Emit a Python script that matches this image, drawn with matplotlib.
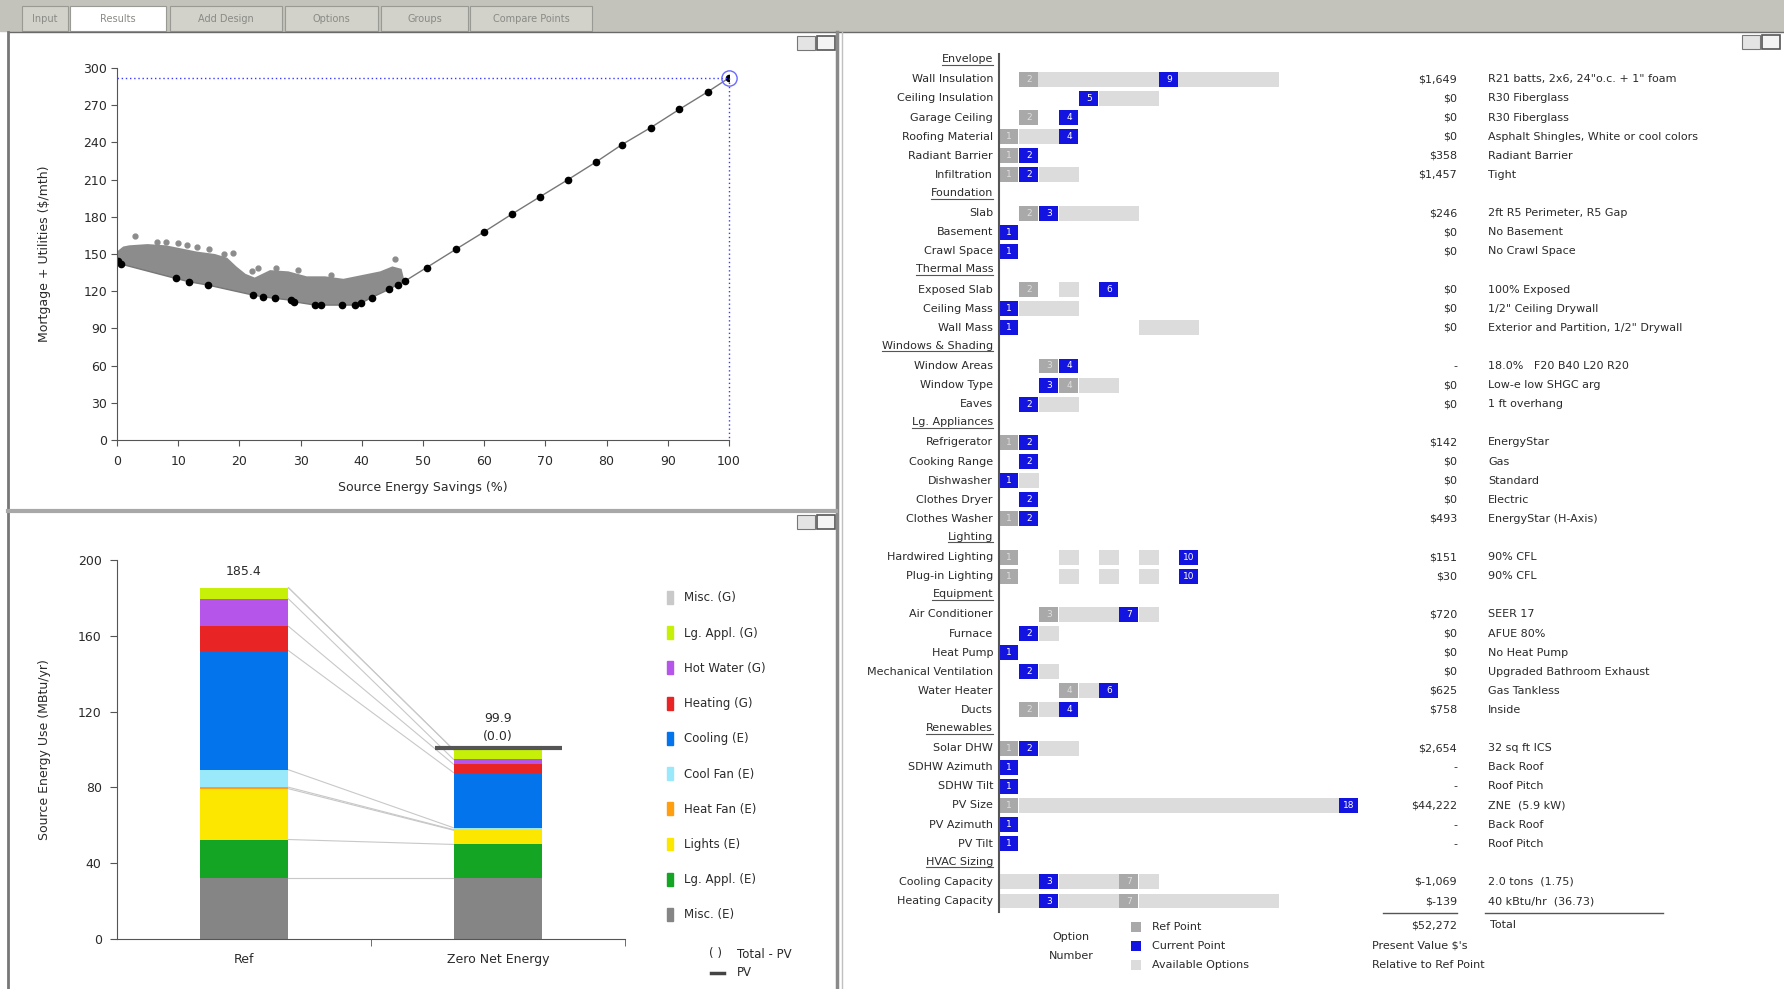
import numpy as np
import matplotlib.pyplot as plt
from matplotlib.patches import Rectangle, Patch

W, H = 1784, 989

# ---------------- top chart: mortgage + utilities vs savings
env_x = [0.2, 0.7, 9.6, 11.8, 14.9, 22.3, 23.9, 25.8, 28.4, 28.9, 32.4, 33.3, 36.7, 38.9,
         39.8, 41.6, 44.4, 45.9, 47.0, 50.6, 55.4, 59.9, 64.5, 69.1, 73.7, 78.3, 82.5,
         87.2, 91.9, 96.5, 100.0]
env_y = [144.5, 141.8, 130.3, 127.6, 124.9, 116.8, 115.5, 114.2, 112.8, 111.5, 108.8, 108.8,
         108.8, 108.8, 110.1, 114.9, 121.4, 125.4, 128.0, 139.1, 153.9, 167.6, 182.1, 196.1,
         210.0, 224.3, 238.2, 251.9, 266.7, 280.7, 292.0]
# upper edge of the cloud of simulated designs
cloud_x = [0, 1, 2, 5, 8, 10, 13, 16, 18, 19.5, 21, 22.5, 25, 28, 31, 34, 37, 40, 43, 45, 46.5, 47]
cloud_top = [152, 156, 157, 158, 157, 155, 152, 150, 147, 140, 134, 131, 137, 136, 132, 132,
             130, 133, 136, 140, 138, 128]
stray_x = [3, 6.5, 8, 10, 11.5, 13, 15, 17.5, 19, 22, 23, 26, 29.5, 35, 45.5]
stray_y = [164.5, 160, 160, 159, 157, 156, 154, 150, 151, 136, 139, 139, 137, 133, 146]
zne_x, zne_y = 100, 292

# ---------------- bottom chart: source energy use
end_uses = ['Misc. (E)', 'Lg. Appl. (E)', 'Lights (E)', 'Heat Fan (E)', 'Cool Fan (E)',
            'Cooling (E)', 'Heating (G)', 'Hot Water (G)', 'Lg. Appl. (G)', 'Misc. (G)']
use_colors = ['#858585', '#13a523', '#fbe700', '#ff9f10', '#9ae9fb',
              '#0474ec', '#e82424', '#b555ea', '#c7f009', '#c9c9c9']
ref_use = [32.2, 20.3, 26.8, 0.8, 9.2, 62.9, 12.8, 14.5, 5.9, 0.0]
zne_use = [32.2, 17.7, 7.5, 0.3, 1.0, 29.1, 4.4, 2.6, 5.1, 0.0]
bar_names = ['Ref', 'Zero Net Energy']
net_label = '(0.0)'

# ---------------- right panel: options
sections = ['Envelope', 'Foundation', 'Thermal Mass', 'Windows & Shading', 'Lg. Appliances',
            'Lighting', 'Equipment', 'Renewables', 'HVAC Sizing']
section_sizes = [6, 3, 3, 3, 5, 2, 6, 6, 2]
items = ['Wall Insulation', 'Ceiling Insulation', 'Garage Ceiling', 'Roofing Material',
         'Radiant Barrier', 'Infiltration',
         'Slab', 'Basement', 'Crawl Space',
         'Exposed Slab', 'Ceiling Mass', 'Wall Mass',
         'Window Areas', 'Window Type', 'Eaves',
         'Refrigerator', 'Cooking Range', 'Dishwasher', 'Clothes Dryer', 'Clothes Washer',
         'Hardwired Lighting', 'Plug-in Lighting',
         'Air Conditioner', 'Furnace', 'Heat Pump', 'Mechanical Ventilation', 'Water Heater', 'Ducts',
         'Solar DHW', 'SDHW Azimuth', 'SDHW Tilt', 'PV Size', 'PV Azimuth', 'PV Tilt',
         'Cooling Capacity', 'Heating Capacity']
ref_opt = [2, None, 2, 1, 1, 1,
           2, None, None,
           2, None, None,
           3, 4, None,
           1, None, None, None, 1,
           1, 1,
           3, None, None, None, 4, 2,
           1, None, None, 1, None, None,
           7, 7]
cur_opt = [9, 5, 4, 4, 2, 2,
           3, 1, 1,
           6, 1, 1,
           4, 3, 2,
           2, 2, 1, 2, 2,
           10, 10,
           7, 2, 1, 2, 6, 4,
           2, 1, 1, 18, 1, 1,
           3, 3]
avail_spans = [[(2, 14)], [(6, 8)], [], [(2, 3)], [], [(3, 4)],
               [(4, 7)], [], [],
               [(4, 4)], [(2, 4)], [(8, 10)],
               [], [(5, 6)], [(3, 4)],
               [], [], [(2, 2)], [], [],
               [(4, 4), (6, 6), (8, 8)], [(4, 4), (6, 6), (8, 8)],
               [(4, 6), (8, 8)], [(3, 3)], [], [(3, 3)], [(5, 5)], [(3, 3)],
               [(3, 4)], [], [], [(2, 17)], [], [],
               [(1, 2), (4, 6), (8, 8)], [(1, 2), (4, 6), (8, 14)]]
costs = ['$1,649', '$0', '$0', '$0', '$358', '$1,457',
         '$246', '$0', '$0',
         '$0', '$0', '$0',
         '-', '$0', '$0',
         '$142', '$0', '$0', '$0', '$493',
         '$151', '$30',
         '$720', '$0', '$0', '$0', '$625', '$758',
         '$2,654', '-', '-', '$44,222', '-', '-',
         '$-1,069', '$-139']
descs = ['R21 batts, 2x6, 24"o.c. + 1" foam', 'R30 Fiberglass', 'R30 Fiberglass',
         'Asphalt Shingles, White or cool colors', 'Radiant Barrier', 'Tight',
         '2ft R5 Perimeter, R5 Gap', 'No Basement', 'No Crawl Space',
         '100% Exposed', '1/2" Ceiling Drywall', 'Exterior and Partition, 1/2" Drywall',
         '18.0%   F20 B40 L20 R20', 'Low-e low SHGC arg', '1 ft overhang',
         'EnergyStar', 'Gas', 'Standard', 'Electric', 'EnergyStar (H-Axis)',
         '90% CFL', '90% CFL',
         'SEER 17', 'AFUE 80%', 'No Heat Pump', 'Upgraded Bathroom Exhaust', 'Gas Tankless', 'Inside',
         '32 sq ft ICS', 'Back Roof', 'Roof Pitch', 'ZNE  (5.9 kW)', 'Back Roof', 'Roof Pitch',
         '2.0 tons  (1.75)', '40 kBtu/hr  (36.73)']
total_cost = '$52,272'

tabs = ['Input', 'Results', 'Add Design', 'Options', 'Groups', 'Compare Points']

TXT = '#2a2a2a'


def px_box(l, t, r, b):
    return [l / W, 1 - b / H, (r - l) / W, (b - t) / H]


fig = plt.figure(figsize=(W / 100, H / 100), dpi=100)
fig.patch.set_facecolor('white')

# window chrome drawn in pixel units
bg = fig.add_axes([0, 0, 1, 1], zorder=-1)
bg.set_xlim(0, W)
bg.set_ylim(H, 0)
bg.axis('off')
bg.add_patch(Rectangle((0, 0), W, 31, color='#c3c3bb'))
tab_x = [(22, 68), (70, 166), (170, 282), (285, 378), (381, 468), (470, 592)]
for i, ((a, b), name) in enumerate(zip(tab_x, tabs)):
    bg.add_patch(Rectangle((a, 6), b - a, 25, fc='white' if i == 1 else '#d2d2ca',
                           ec='#9a9a94', lw=0.8))
    bg.text((a + b) / 2, 19, name, fontsize=7, color='#8a8a86', ha='center', va='center')
bg.plot([8, W], [32, 32], color='#6a6a6a', lw=1)
bg.plot([8, 8], [32, H], color='#777777', lw=2)
bg.plot([837, 837], [32, H], color='#8a8a8a', lw=2.5)
bg.plot([842, 842], [32, H], color='#c0c0c0', lw=1)
bg.plot([8, 836], [511, 511], color='#a8a8a8', lw=3)
for (a, t) in [(797, 36), (797, 515), (1742, 35)]:
    bg.add_patch(Rectangle((a, t), 18, 14, fc='#e4e4e4', ec='#777', lw=0.8))
    bg.add_patch(Rectangle((a + 20, t), 18, 14, fc='#f4f4f4', ec='#555', lw=1.2))

# ---------------- top chart
ax1 = fig.add_axes(px_box(117, 68, 729, 440))
ax1.patch.set_alpha(0)
low_x = [x for x in env_x if x <= 47]
low_y = env_y[:len(low_x)]
ax1.fill(cloud_x + low_x[::-1], cloud_top + low_y[::-1], color='#8c8c8c', lw=0)
ax1.plot(stray_x, stray_y, 'o', color='#8c8c8c', ms=3.5)
ax1.plot(env_x, env_y, color='#777777', lw=1, marker='o', ms=4.5, mfc='black', mec='black')
ax1.plot([0, zne_x], [zne_y, zne_y], color='#3a3aff', lw=1, ls=(0, (1, 2)), clip_on=False)
ax1.plot([zne_x, zne_x], [zne_y, 0], color='#3a3aff', lw=1, ls=(0, (1, 2)), clip_on=False)
ax1.plot([zne_x], [zne_y], 'o', ms=11, mfc='none', mec='#6a6aff', mew=1, clip_on=False)
ax1.set_xlim(0, 100)
ax1.set_ylim(0, 300)
ax1.set_xticks(np.arange(0, 101, 10))
ax1.set_yticks(np.arange(0, 301, 30))
for s in ['top', 'right']:
    ax1.spines[s].set_visible(False)
for s in ['left', 'bottom']:
    ax1.spines[s].set_color('#555555')
ax1.tick_params(labelsize=9, colors='#555555', labelcolor=TXT, length=4, pad=3)
ax1.tick_params(axis='x', pad=7)
ax1.set_ylabel('Mortgage + Utilities ($/mth)', fontsize=9, color=TXT)
ax1.set_xlabel('Source Energy Savings (%)', fontsize=9, color=TXT)
ax1.yaxis.set_label_coords(-0.108, 0.5)
ax1.xaxis.set_label_coords(0.5, -0.11)

# ---------------- bottom chart
ax2 = fig.add_axes(px_box(117, 560, 625, 939))
ax2.patch.set_alpha(0)
bw = 0.35
ref_cum = np.concatenate([[0], np.cumsum(ref_use)])
zne_cum = np.concatenate([[0], np.cumsum(zne_use)])
for i in range(len(end_uses)):
    ax2.bar(0, ref_use[i], bw, bottom=ref_cum[i], color=use_colors[i], lw=0)
    ax2.bar(1, zne_use[i], bw, bottom=zne_cum[i], color=use_colors[i], lw=0)
for a, b in zip(ref_cum[1:], zne_cum[1:]):
    ax2.plot([bw / 2, 1 - bw / 2], [a, b], color='#c8c8c8', lw=0.8, zorder=0)
ax2.plot([0.75, 1.25], [zne_cum[-1] + 0.7] * 2, color='#555555', lw=3, solid_capstyle='butt')
ax2.text(0, ref_cum[-1] + 5, f'{ref_cum[-1]:.1f}', ha='center', va='bottom', fontsize=9, color=TXT)
ax2.text(1, zne_cum[-1] + 13, f'{zne_cum[-1]:.1f}', ha='center', va='bottom', fontsize=9, color=TXT)
ax2.text(1, zne_cum[-1] + 3.5, net_label, ha='center', va='bottom', fontsize=9, color=TXT)
ax2.set_xlim(-0.5, 1.5)
ax2.set_ylim(0, 200)
ax2.set_yticks(np.arange(0, 201, 40))
ax2.set_xticks([0, 1])
ax2.set_xticklabels(bar_names)
ax2.set_xticks([0.5, 1.5], minor=True)
ax2.tick_params(axis='x', which='major', length=0, pad=10)
ax2.tick_params(axis='x', which='minor', length=5, color='#555555')
ax2.tick_params(axis='y', length=5, pad=6, colors='#555555')
ax2.tick_params(labelsize=9, labelcolor=TXT)
for s in ['top', 'right']:
    ax2.spines[s].set_visible(False)
for s in ['left', 'bottom']:
    ax2.spines[s].set_color('#555555')
ax2.set_ylabel('Source Energy Use (MBtu/yr)', fontsize=9, color=TXT)
ax2.yaxis.set_label_coords(-0.13, 0.5)

handles = [Patch(color=c) for c in use_colors[::-1]]
fig.legend(handles, end_uses[::-1], loc='upper left', bbox_to_anchor=(667 / W, 1 - 591 / H),
           frameon=False, fontsize=8.5, handlelength=0.55, handleheight=1.3,
           handletextpad=0.9, labelspacing=1.85, borderpad=0, borderaxespad=0,
           labelcolor=TXT)
bg.text(709, 954, '( )', fontsize=8.5, color=TXT, va='center')
bg.text(737, 954, 'Total - PV', fontsize=8.5, color=TXT, va='center')
bg.plot([711, 724], [973, 973], color='#444444', lw=2.5)
bg.text(737, 973, 'PV', fontsize=8.5, color=TXT, va='center')

# ---------------- right panel: option numbers
ox_px, opt_px = 999, 20.0
row0_px, row_px = 60.2, 19.11
ro = fig.add_axes(px_box(840, 40, W, H))
ro.patch.set_alpha(0)
ro.set_xlim((840 - ox_px) / opt_px, (W - ox_px) / opt_px)
ro.set_ylim((H - row0_px) / row_px, (40 - row0_px) / row_px)
ro.axis('off')

row_of_item = []
header_rows = []
r = 0
for name, n in zip(sections, section_sizes):
    header_rows.append(r)
    row_of_item += list(range(r + 1, r + 1 + n))
    r += n + 1

bh = 0.78
header_texts = []
for name, r in zip(sections, header_rows):
    header_texts.append(ro.text(-0.3, r - 0.05, name, ha='right', va='center', fontsize=8, color=TXT))

for k, r in enumerate(row_of_item):
    ro.text(-0.3, r, items[k], ha='right', va='center', fontsize=8, color=TXT)
    for a, b in avail_spans[k]:
        ro.barh(r, b - a + 1, left=a - 1, height=bh, color='#dcdcdc', lw=0)
    if ref_opt[k] is not None:
        ro.barh(r, 0.97, left=ref_opt[k] - 1, height=bh, color='#a9a9a9', lw=0)
        ro.text(ref_opt[k] - 0.5, r, str(ref_opt[k]), ha='center', va='center',
                fontsize=6.5, color='#dedede')
    ro.barh(r, 0.97, left=cur_opt[k] - 1, height=bh, color='#1414e0', lw=0)
    ro.text(cur_opt[k] - 0.5, r, str(cur_opt[k]), ha='center', va='center',
            fontsize=6.5, color='white')
    ro.text(22.9, r, costs[k], ha='right', va='center', fontsize=8, color=TXT)
    ro.text(24.45, r, descs[k], ha='left', va='center', fontsize=8, color=TXT)

last = row_of_item[-1]
ro.plot([0, 0], [-0.3, last + 0.55], color='#555555', lw=1.5)
ro.plot([19.2, 22.9], [last + 0.63] * 2, color='#555555', lw=1)
ro.plot([24.3, 33.2], [last + 0.63] * 2, color='#555555', lw=1)
ro.text(22.9, last + 1.26, total_cost, ha='right', va='center', fontsize=8, color=TXT)
ro.text(24.55, last + 1.26, 'Total', ha='left', va='center', fontsize=8, color=TXT)
ro.text(18.65, last + 2.35, "Present Value $'s", ha='left', va='center', fontsize=8, color=TXT)
ro.text(18.65, last + 3.35, 'Relative to Ref Point', ha='left', va='center', fontsize=8, color=TXT)
ro.text(3.6, last + 1.9, 'Option', ha='center', va='center', fontsize=8, color=TXT)
ro.text(3.6, last + 2.9, 'Number', ha='center', va='center', fontsize=8, color=TXT)
key = [('Ref Point', '#a9a9a9'), ('Current Point', '#1414e0'), ('Available Options', '#dcdcdc')]
for i, (name, c) in enumerate(key):
    yk = last + 1.35 + i
    ro.barh(yk, 0.5, left=6.6, height=0.5, color=c, lw=0)
    ro.text(7.65, yk, name, ha='left', va='center', fontsize=8, color=TXT)

# underline the section headers
fig.canvas.draw()
for t in header_texts:
    bb = t.get_window_extent()
    bg.plot([bb.x0, bb.x1], [H - bb.y0 + 0.5] * 2, color='#555555', lw=0.8)

fig.savefig('out.png', dpi=100)
